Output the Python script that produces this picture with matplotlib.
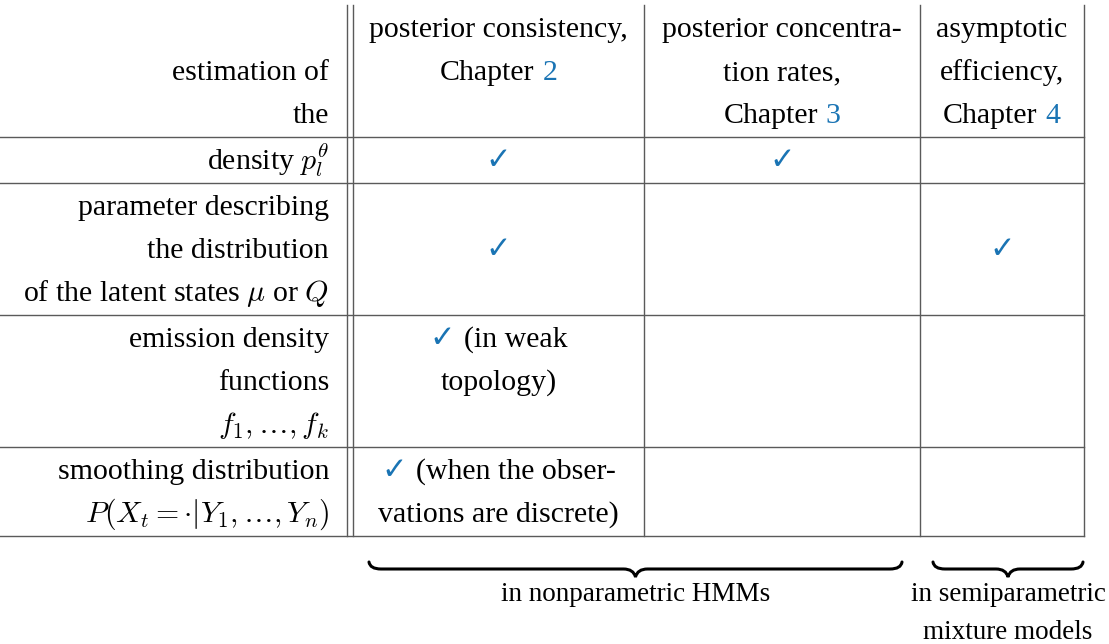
import matplotlib
matplotlib.use("Agg")
import matplotlib.pyplot as plt
from matplotlib.path import Path
from matplotlib.patches import PathPatch

plt.rcParams['font.family'] = ['Liberation Serif', 'DejaVu Sans']
plt.rcParams['mathtext.fontset'] = 'cm'

BLUE = '#1a74b4'
GRID = '#5a5a5a'
FS = 21.5
FS_SMALL = 19.5
FS_CHECK = 22
CHECK = '\u2713'

# ---- table content ----
corner_label = ["estimation of", "the"]
col_titles = [["posterior consistency,", "Chapter"],
              ["posterior concentra-", "tion rates,", "Chapter"],
              ["asymptotic", "efficiency,", "Chapter"]]
chapters = ["2", "3", "4"]
row_labels = [["density $p_l^\\theta$"],
              ["parameter describing", "the distribution",
               "of the latent states $\\mu$ or $Q$"],
              ["emission density", "functions", "$f_1,\\ldots,f_k$"],
              ["smoothing distribution", "$P(X_t=\\cdot|Y_1,\\ldots,Y_n)$"]]
checks = [[True, True, False],
          [True, False, True],
          [True, False, False],
          [True, False, False]]
check_notes = [[], [], ["(in weak", "topology)"],
               ["(when the obser-", "vations are discrete)"]]
group_labels = [["in nonparametric HMMs"], ["in semiparametric", "mixture models"]]
group_cols = [(0, 1), (2, 2)]

# ---- layout (pixels) ----
LINE_H = 43
TOP = 5
x_edges = [0, 347, 353, 644, 920, 1084]   # label col | double rule | 3 columns
col_left = x_edges[2:5]
col_right = x_edges[3:6]
col_cx = [(a + b) / 2 for a, b in zip(col_left, col_right)]
label_x = 329

n_lines = [3] + [len(r) for r in row_labels]
y_edges = [TOP]
for n in n_lines:
    y_edges.append(y_edges[-1] + LINE_H * n + 3)

fig = plt.figure(figsize=(11.09, 6.44), dpi=100)
ax = fig.add_axes([0, 0, 1, 1])
ax.set_xlim(0, 1109)
ax.set_ylim(644, 0)
ax.axis('off')
renderer = fig.canvas.get_renderer()


def baseline(row, k):
    return y_edges[row] + 32 + LINE_H * k


def put_line(cx, y, parts, fs=FS, gap=8):
    # parts: list of (text, color, fontsize or None); drawn centred on cx
    arts = []
    for s, c, f in parts:
        kw = dict(color=c, fontsize=f or fs, va='baseline', ha='left')
        if s == CHECK:
            kw['family'] = 'DejaVu Sans'
        arts.append(ax.text(0, y, s, **kw))
    widths = [a.get_window_extent(renderer).width for a in arts]
    total = sum(widths) + gap * (len(arts) - 1)
    x = cx - total / 2
    for a, w in zip(arts, widths):
        a.set_x(x)
        x += w + gap


# grid (no rule above the header)
for y in y_edges[1:]:
    ax.plot([0, x_edges[-1]], [y, y], color=GRID, lw=1.0)
for x in x_edges[1:]:
    ax.plot([x, x], [y_edges[0], y_edges[-1]], color=GRID, lw=1.0)

# header row
for k, s in enumerate(corner_label):
    ax.text(label_x, baseline(0, k + 1), s, ha='right', va='baseline', fontsize=FS)
for j, lines in enumerate(col_titles):
    for k, s in enumerate(lines[:-1]):
        put_line(col_cx[j], baseline(0, k), [(s, 'black', None)])
    put_line(col_cx[j], baseline(0, len(lines) - 1),
             [(lines[-1], 'black', None), (chapters[j], BLUE, None)])

# body rows
for i, lines in enumerate(row_labels):
    r = i + 1
    for k, s in enumerate(lines):
        ax.text(label_x, baseline(r, k), s, ha='right', va='baseline', fontsize=FS)
    for j in range(3):
        if not checks[i][j]:
            continue
        notes = check_notes[i] if j == 0 else []
        if notes:
            put_line(col_cx[j], baseline(r, 0),
                     [(CHECK, BLUE, FS_CHECK), (notes[0], 'black', None)], gap=9)
            for k, s in enumerate(notes[1:]):
                put_line(col_cx[j], baseline(r, k + 1), [(s, 'black', None)])
        else:
            put_line(col_cx[j], baseline(r, (len(lines) - 1) // 2),
                     [(CHECK, BLUE, FS_CHECK)])


# braces underneath
def brace(x0, x1, y, h=7, d=8, lw=2.2):
    xm = (x0 + x1) / 2
    verts = [(x0, y - h), (x0 + 1, y), (x0 + 12, y), (xm - 12, y),
             (xm - 2, y), (xm, y + d), (xm + 2, y), (xm + 12, y),
             (x1 - 12, y), (x1 - 1, y), (x1, y - h)]
    codes = [Path.MOVETO, Path.CURVE3, Path.CURVE3, Path.LINETO,
             Path.CURVE3, Path.CURVE3, Path.CURVE3, Path.CURVE3,
             Path.LINETO, Path.CURVE3, Path.CURVE3]
    ax.add_patch(PathPatch(Path(verts, codes), fill=False, lw=lw,
                           edgecolor='black', capstyle='round'))
    return xm


insets = [(16, 18), (13, 1)]
for (c0, c1), (l, r), lab in zip(group_cols, insets, group_labels):
    xm = brace(col_left[c0] + l, col_right[c1] - r, 569)
    for k, s in enumerate(lab):
        ax.text(xm, 601 + 38 * k, s, ha='center', va='baseline', fontsize=FS_SMALL)

fig.savefig('out.png', dpi=100)
